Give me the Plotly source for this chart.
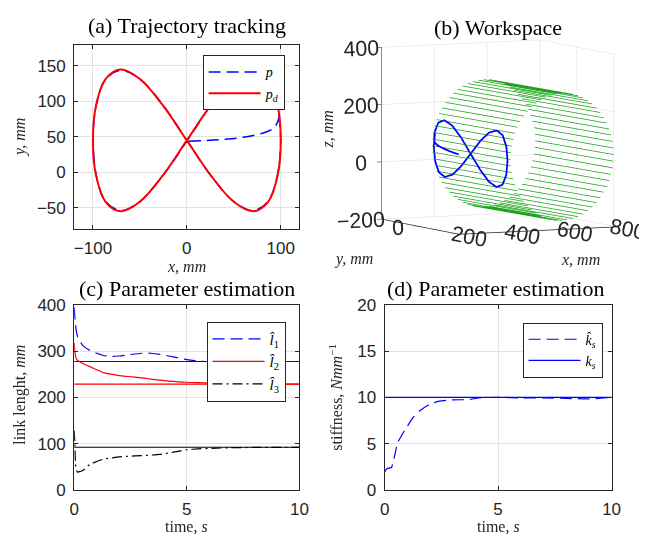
import plotly.graph_objects as go

# ---------------- (a) Trajectory tracking ----------------
pd_x = [0, 25.9, 50, 70.7, 86.6, 96.6, 100, 96.6, 86.6, 70.7, 50, 25.9, 0,
        -25.9, -50, -70.7, -86.6, -96.6, -100, -96.6, -86.6, -70.7, -50, -25.9, 0]
pd_y = [45, 95, 131.6, 145, 131.6, 95, 45, -5, -41.6, -55, -41.6, -5, 45,
        95, 131.6, 145, 131.6, 95, 45, -5, -41.6, -55, -41.6, -5, 45]

p_x = [2, 20, 40, 60, 80, 92, 97, 98.5, 97.5, 88, 71.5, 50.5, 26, 0.5,
       -25.5, -49.5, -70, -86.3, -96.3, -99.7, -96.5, -86.5, -70.5, -49.5, -25.5, 0,
       25.5, 49.5, 70, 86.3, 96.3, 100, 96.6]
p_y = [44, 44.8, 46.5, 49.5, 55, 62, 72, 85, 97, 131, 144, 131, 95, 45,
       -4.5, -40.5, -54, -41.3, -5, 45, 95, 131, 144, 131, 95, 45,
       -4.5, -40.5, -54, -41.3, -5, 45, 95]

# ---------------- (b) Workspace ----------------
ws_x = [787, 786, 783, 777, 770, 761, 750, 737, 722, 707, 690, 671, 652, 633, 612, 592,
        572, 551, 532, 513, 494, 477, 462, 447, 434, 423, 414, 407, 401, 398, 397,
        398, 401, 407, 414, 423, 434, 447, 462, 477, 494, 513, 532, 551, 572, 592,
        612, 633, 652, 671, 690, 707, 722, 737, 750, 761, 770, 777, 783, 786]
ws_z = [50, 73, 96, 119, 140, 161, 180, 199, 215, 230, 242, 253, 261, 267, 271, 272,
        271, 267, 261, 253, 242, 230, 215, 199, 180, 161, 140, 119, 96, 73, 50,
        27, 4, -19, -40, -61, -80, -99, -115, -130, -142, -153, -161, -167, -171, -172,
        -171, -167, -161, -153, -142, -130, -115, -99, -80, -61, -40, -19, 4, 27]
ws_y_start = 95
ws_y_end = -100
ws_dx = 12

traj3_x = [355, 362, 370, 377, 384, 390, 395, 398] + [398] * (len(p_x) - 8)

# ---------------- (c) link length ----------------
t_c = [0, 0.03, 0.06, 0.1, 0.15, 0.2, 0.4, 0.7, 1.0, 1.3, 1.7, 2.0, 2.4, 3.0, 3.4,
       3.8, 4.2, 4.6, 5.0, 5.5, 6.0, 7.0, 8.0, 9.0, 10.0]
l1_hat = [395, 375, 358, 343, 332, 326, 312, 302, 296, 291, 289, 290, 292.5, 296, 296,
          293.5, 290, 286, 282, 279, 278, 278, 278, 278, 278]
l2_hat = [318, 300, 290, 283, 281, 279, 273, 267, 260, 254, 250, 247.5, 245.5, 242.6, 240,
          237.5, 235.5, 234, 233, 232, 231, 230, 229.5, 229, 229]
l3_hat = [128, 100, 55, 42, 38, 38.5, 42, 55, 61, 66, 69, 71, 72.5, 74, 75,
          76.5, 79.5, 83, 86.5, 88.5, 89.5, 91, 91.5, 91.5, 91.5]
t_true = [0, 10]
l1_true = [278, 278]
l2_true = [229, 229]
l3_true = [92, 92]

# ---------------- (d) stiffness ----------------
t_d = [0, 0.1, 0.3, 0.37, 0.47, 0.57, 0.76, 0.98, 1.26, 1.55, 1.98, 2.41, 2.99, 3.7,
       4.14, 5.0, 6.0, 7.0, 8.0, 9.0, 10.0]
ks_hat = [1.92, 2.27, 2.4, 3.0, 4.0, 5.06, 5.93, 6.8, 7.85, 8.55, 9.25, 9.6, 9.74, 9.77,
          9.95, 10.02, 9.95, 9.95, 9.9, 9.85, 10.0]
ks_true = [10, 10]

BLUE = "#0000ff"
RED = "#ff0000"
DARK = "#262626"
GRID = "#e3e3e3"
SERIF = "Liberation Serif"
SANS = "Liberation Sans"
DASH = "12px,6px"
DASHDOT = "10px,4px,2px,4px"

fig = go.Figure()

# (a)
fig.add_trace(go.Scatter(x=p_x, y=p_y, mode="lines", name="<i>p</i>",
                         line=dict(color=BLUE, width=1.5, dash=DASH, shape="spline", smoothing=1),
                         xaxis="x", yaxis="y", legend="legend"))
fig.add_trace(go.Scatter(x=pd_x, y=pd_y, mode="lines", name="<i>p</i><sub><i>d</i></sub>",
                         line=dict(color=RED, width=2, shape="spline", smoothing=1),
                         xaxis="x", yaxis="y", legend="legend"))

# (b)
gx, gy, gz = [], [], []
for xv, zv in zip(ws_x, ws_z):
    gx += [xv - ws_dx, xv + ws_dx, None]
    gy += [ws_y_start, ws_y_end, None]
    gz += [zv, zv, None]
fig.add_trace(go.Scatter3d(x=gx, y=gy, z=gz, mode="lines",
                           line=dict(color="#1aa31a", width=1.5), showlegend=False,
                           scene="scene", hoverinfo="skip"))
fig.add_trace(go.Scatter3d(x=traj3_x, y=p_x, z=p_y, mode="lines",
                           line=dict(color=BLUE, width=3.5), showlegend=False,
                           scene="scene", hoverinfo="skip"))

# (c)
fig.add_trace(go.Scatter(x=t_c, y=l1_hat, mode="lines", name="<i>l̂</i><sub>1</sub>",
                         line=dict(color=BLUE, width=1.2, dash=DASH, shape="spline", smoothing=0.6),
                         xaxis="x2", yaxis="y2", legend="legend2"))
fig.add_trace(go.Scatter(x=t_true, y=l1_true, mode="lines", showlegend=False,
                         line=dict(color=BLUE, width=1.2), xaxis="x2", yaxis="y2"))
fig.add_trace(go.Scatter(x=t_c, y=l2_hat, mode="lines", name="<i>l̂</i><sub>2</sub>",
                         line=dict(color=RED, width=1.2, shape="spline", smoothing=0.6),
                         xaxis="x2", yaxis="y2", legend="legend2"))
fig.add_trace(go.Scatter(x=t_true, y=l2_true, mode="lines", showlegend=False,
                         line=dict(color=RED, width=1.2), xaxis="x2", yaxis="y2"))
fig.add_trace(go.Scatter(x=t_c, y=l3_hat, mode="lines", name="<i>l̂</i><sub>3</sub>",
                         line=dict(color="black", width=1.2, dash=DASHDOT, shape="spline", smoothing=0.6),
                         xaxis="x2", yaxis="y2", legend="legend2"))
fig.add_trace(go.Scatter(x=t_true, y=l3_true, mode="lines", showlegend=False,
                         line=dict(color="black", width=1.2), xaxis="x2", yaxis="y2"))

# (d)
fig.add_trace(go.Scatter(x=t_d, y=ks_hat, mode="lines", name="<i>k̂</i><sub><i>s</i></sub>",
                         line=dict(color=BLUE, width=1.2, dash=DASH, shape="spline", smoothing=0.6),
                         xaxis="x3", yaxis="y3", legend="legend3"))
fig.add_trace(go.Scatter(x=t_true, y=ks_true, mode="lines", name="<i>k</i><sub><i>s</i></sub>",
                         line=dict(color=BLUE, width=1.2),
                         xaxis="x3", yaxis="y3", legend="legend3"))

W, H = 648, 545


def px_x(a, b):
    return [a / W, b / W]


def px_y(top, bottom):
    return [1 - bottom / H, 1 - top / H]


def ax2d(dom, rng, tickvals, anchor):
    return dict(domain=dom, range=rng, tickvals=tickvals, anchor=anchor,
                showline=True, mirror="ticks", linecolor=DARK, linewidth=1,
                ticks="inside", ticklen=4, tickcolor=DARK,
                showgrid=True, gridcolor=GRID, gridwidth=1, zeroline=False,
                tickfont=dict(family=SANS, size=17, color=DARK),
                ticklabelstandoff=4)


def leg(x, y, size):
    return dict(x=x, y=y, bgcolor="white", bordercolor=DARK, borderwidth=1,
                font=dict(family=SERIF, size=size, color="black"),
                itemwidth=52, tracegroupgap=0, xanchor="left", yanchor="top")


ax3 = dict(showbackground=False, gridcolor="#dcdcdc", gridwidth=1,
           showline=True, linecolor=DARK, linewidth=1.5, ticks="outside",
           ticklen=5, tickcolor=DARK, zeroline=False, showspikes=False,
           tickfont=dict(family=SANS, size=16, color=DARK), title=dict(text=""))

fig.update_layout(
    width=W, height=H, margin=dict(l=0, r=0, t=0, b=0),
    paper_bgcolor="white", plot_bgcolor="white", showlegend=True,
    xaxis=ax2d(px_x(70.7, 301), [-120, 120], [-100, 0, 100], "y"),
    yaxis=ax2d(px_y(37, 228), [-80, 180], [-50, 0, 50, 100, 150], "x"),
    xaxis2=ax2d(px_x(70.7, 301), [0, 10], [0, 5, 10], "y2"),
    yaxis2=ax2d(px_y(307, 498), [0, 400], [0, 100, 200, 300, 400], "x2"),
    xaxis3=ax2d(px_x(388, 620), [0, 10], [0, 5, 10], "y3"),
    yaxis3=ax2d(px_y(307, 498), [0, 20], [0, 5, 10, 15, 20], "x3"),
    legend=leg(202 / W, 1 - 48 / H, 14),
    legend2=leg(206 / W, 1 - 324 / H, 15),
    legend3=leg(529 / W, 1 - 325 / H, 14),
    scene=dict(
        domain=dict(x=[0.5, 1.0], y=[0.516, 0.996]),
        xaxis=dict(range=[200, 800], tickvals=[200, 400, 600, 800], **ax3),
        yaxis=dict(range=[-110, 100], tickvals=[-100, 0, 100], ticktext=["", "0", ""], **ax3),
        zaxis=dict(range=[-200, 400], tickvals=[-200, 0, 200, 400], **ax3),
        aspectmode="manual", aspectratio=dict(x=1.4, y=1.4, z=1.37),
        camera=dict(eye=dict(x=-1.1, y=-1.905, z=0.211), up=dict(x=0, y=0, z=1),
                    center=dict(x=-0.133, y=0.071, z=0), projection=dict(type="orthographic")),
        bgcolor="white",
    ),
)

ann_font = dict(family=SERIF, size=22, color="black")
lab_font = dict(family=SERIF, size=16, color=DARK)
annotations = [
    dict(text="(a) Trajectory tracking", x=186 / W, y=1 - 17 / H, font=ann_font),
    dict(text="(b) Workspace", x=504 / W, y=1 - 19 / H, font=ann_font),
    dict(text="(c) Parameter estimation", x=186 / W, y=1 - 290 / H, font=ann_font),
    dict(text="(d) Parameter estimation", x=501 / W, y=1 - 290 / H, font=ann_font),
    dict(text="<i>x, mm</i>", x=186 / W, y=1 - 267 / H, font=lab_font),
    dict(text="<i>y, mm</i>", x=16 / W, y=1 - 133 / H, font=lab_font, textangle=-90),
    dict(text="<i>z, mm</i>", x=330 / W, y=1 - 125 / H, font=lab_font, textangle=-90),
    dict(text="<i>y, mm</i>", x=356 / W, y=1 - 259 / H, font=lab_font),
    dict(text="<i>x, mm</i>", x=588 / W, y=1 - 260 / H, font=lab_font),
    dict(text="time, <i>s</i>", x=186 / W, y=1 - 536 / H, font=lab_font),
    dict(text="link lenght, <i>mm</i>", x=15 / W, y=1 - 400 / H, font=lab_font, textangle=-90),
    dict(text="time, <i>s</i>", x=504 / W, y=1 - 536 / H, font=lab_font),
    dict(text="stiffness, <i>Nmm</i><sup>−1</sup>", x=338 / W, y=1 - 402 / H, font=lab_font, textangle=-90),
]
for a in annotations:
    a.update(xref="paper", yref="paper", showarrow=False, xanchor="center", yanchor="middle")
fig.update_layout(annotations=annotations)

fig.write_html("out.html")
